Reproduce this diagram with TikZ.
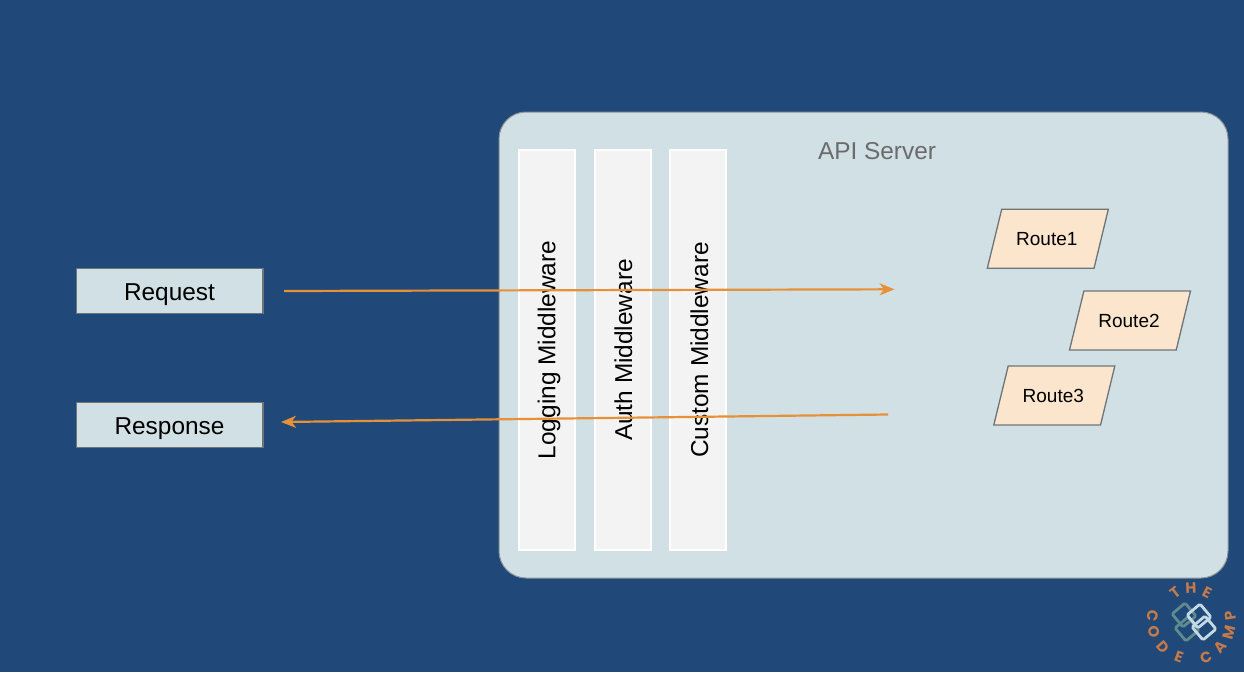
\documentclass[tikz,border=0pt]{standalone}
\usepackage{fontspec}
\setmainfont{Liberation Sans}
\newfontfamily\logofont{Poppins}
\usetikzlibrary{arrows.meta}
\definecolor{bgblue}{HTML}{204878}
\definecolor{panel}{HTML}{D0E0E4}
\definecolor{barfill}{HTML}{F3F3F3}
\definecolor{routefill}{HTML}{FCE5CD}
\definecolor{edgegrey}{HTML}{6E7478}
\definecolor{arrowor}{HTML}{E69138}
\definecolor{logoor}{HTML}{C47A4A}
\definecolor{logolight}{HTML}{C3DAE6}
\definecolor{logodark}{HTML}{5F8A8E}
\tikzset{
  x=1pt,y=-1pt,
  panelbox/.style={draw=edgegrey!70!panel,line width=1pt,fill=panel,rounded corners=27pt,minimum width=729pt,minimum height=466pt,inner sep=0pt},
  barbox/.style={draw=white,line width=2pt,fill=barfill,minimum width=56pt,minimum height=400pt,inner sep=0pt},
  bartext/.style={rotate=90,font=\fontsize{24.4pt}{26pt}\selectfont,text=black,inner sep=0pt},
  iobox/.style={draw=edgegrey,line width=1.5pt,fill=panel,minimum width=186.5pt,minimum height=45pt,inner sep=0pt,text height=19pt,text depth=0pt,font=\fontsize{24.4pt}{26pt}\selectfont},
  routeshape/.style={draw=edgegrey,line width=1.3pt,fill=routefill,line join=miter},
  routetext/.style={inner sep=0pt,text height=13.6pt,text depth=0pt,font=\fontsize{19pt}{21pt}\selectfont},
  flow/.style={draw=arrowor,line width=2.2pt,-{Stealth[length=15pt,width=12pt,inset=4.5pt]}},
  logochar/.style={font=\logofont\bfseries\fontsize{15pt}{16pt}\selectfont,text=logoor,inner sep=0pt},
  logolt/.style={draw=logolight,line width=2.8pt,rounded corners=1.5pt,minimum size=17pt,inner sep=0pt,rotate=40},
  logodk/.style={draw=logodark,line width=2.8pt,rounded corners=1.5pt,minimum size=17pt,inner sep=0pt,rotate=40},
}
\begin{document}
\begin{tikzpicture}
\useasboundingbox (0,0) rectangle (1244,672);
\fill[bgblue] (0,0) rectangle (1244,672);
\node[panelbox] (server) at (863.5,345) {};
\node[font=\fontsize{24.4pt}{26pt}\selectfont,text=black!58,text height=19pt,text depth=0pt,inner sep=0pt] (apilabel) at (877,150) {API Server};
\node[barbox] (logbar) at (547,350) {};
\node[barbox] (authbar) at (622.5,350) {};
\node[barbox] (custbar) at (698,350) {};
\node[bartext] (logtext) at (549,350) {Logging Middleware};
\node[bartext] (authtext) at (623.5,350) {Auth Middleware};
\node[bartext] (custtext) at (699.5,350) {Custom Middleware};
\node[iobox] (request) at (169.5,291) {Request};
\node[iobox] (response) at (169.5,425) {Response};
\foreach \cx/\cy/\nm/\lbl in {1047.8/238.8/route1/Route1,1130/320.5/route2/Route2,1054.3/395.5/route3/Route3}{
  \draw[routeshape] (\cx-46.1,\cy-29.5) -- (\cx+60.5,\cy-29.5) -- (\cx+46.2,\cy+29.5) -- (\cx-60.5,\cy+29.5) -- cycle;
  \node[routetext] (\nm) at (\cx-1,\cy) {\lbl};
}
\coordinate (reqstart) at (284,291);
\coordinate (reqend) at (894.5,289.3);
\coordinate (resstart) at (888,414.5);
\coordinate (resend) at (281,422);
\draw[flow] (reqstart) -- (reqend);
\draw[flow] (resstart) -- (resend);
\node[logodk] (sq1) at (1184,615) {};
\node[logodk] (sq2) at (1187,629) {};
\node[logolt] (sq3) at (1199,616) {};
\node[logolt] (sq4) at (1204,628) {};
\foreach \px/\py/\rot/\ch [count=\i] in {
  1175/593/38/T,1191/588/2/H,1207/593/-27/E,
  1153/616/-99/C,1154/632/-75/O,1163/647/-49/D,1179/657/-20/E,
  1206/657/22/C,1220/647/48/A,1229/632/75/M,1231/616/99/P}
  \node[logochar,rotate=\rot] (logo\i) at (\px,\py) {\ch};
\end{tikzpicture}
\end{document}
